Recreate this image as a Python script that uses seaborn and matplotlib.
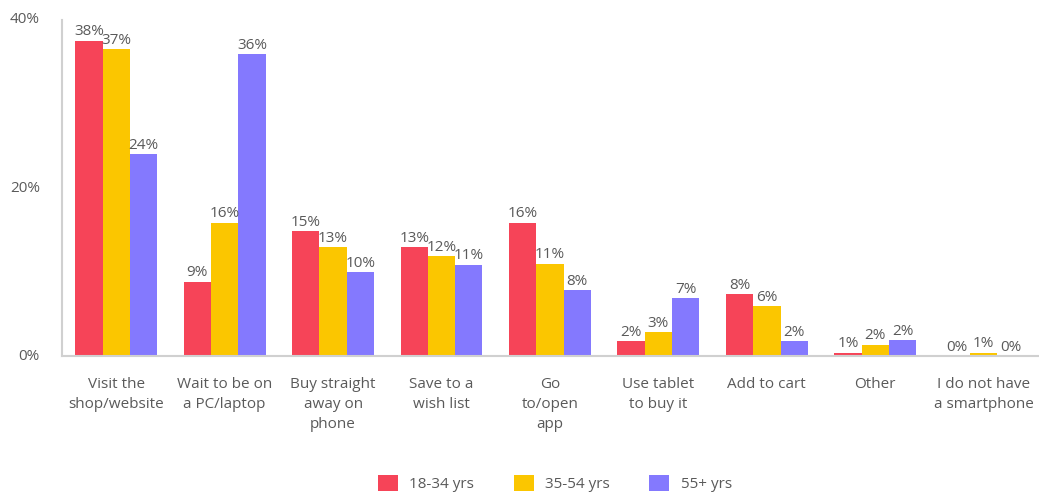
import matplotlib
matplotlib.use("Agg")
import matplotlib.pyplot as plt
import seaborn as sns
import pandas as pd
from matplotlib.patches import Patch

categories = ["Visit the\nshop/website", "Wait to be on\na PC/laptop", "Buy straight\naway on\nphone",
              "Save to a\nwish list", "Go\nto/open\napp", "Use tablet\nto buy it", "Add to cart",
              "Other", "I do not have\na smartphone"]
groups = ["18-34 yrs", "35-54 yrs", "55+ yrs"]
vals_18_34 = [37.5, 8.9, 14.9, 13.0, 15.9, 1.8, 7.4, 0.45, 0.0]
vals_35_54 = [36.5, 15.9, 13.0, 11.9, 11.0, 2.9, 6.0, 1.4, 0.45]
vals_55 = [24.0, 35.9, 10.0, 10.9, 7.9, 6.9, 1.8, 1.9, 0.0]
labels_18_34 = ["38%", "9%", "15%", "13%", "16%", "2%", "8%", "1%", "0%"]
labels_35_54 = ["37%", "16%", "13%", "12%", "11%", "3%", "6%", "2%", "1%"]
labels_55 = ["24%", "36%", "10%", "11%", "8%", "7%", "2%", "2%", "0%"]
colors = ["#F64458", "#FBC600", "#8479FE"]
yticks = [0, 20, 40]

rows = []
for g, vals in zip(groups, [vals_18_34, vals_35_54, vals_55]):
    for c, v in zip(categories, vals):
        rows.append({"category": c, "group": g, "value": v})
df = pd.DataFrame(rows)

sns.set_theme(style="white")
plt.rcParams["font.family"] = ["Open Sans", "DejaVu Sans"]
txt = "#5A5A5A"
fs = 11

fig = plt.figure(figsize=(10.39, 4.95), dpi=100)
ax = fig.add_axes([0.0597, 0.2798, 0.9393, 0.6808])
sns.barplot(data=df, x="category", y="value", hue="group", palette=colors,
            width=0.755, gap=0, saturation=1, ax=ax, legend=False, edgecolor="none")

for cont, labs in zip(ax.containers, [labels_18_34, labels_35_54, labels_55]):
    ax.bar_label(cont, labels=labs, padding=1, fontsize=fs, color=txt, clip_on=False)

ax.set_xlim(-0.5, 8.5)
ax.set_ylim(0, 40)
ax.set_yticks(yticks)
ax.set_yticklabels([f"{t}%" for t in yticks], fontsize=fs, color=txt)
ax.tick_params(axis="y", length=0, pad=16)
ax.tick_params(axis="x", length=0, pad=15, labelcolor=txt)
for lab in ax.get_xticklabels():
    lab.set_fontsize(fs)
    lab.set_linespacing(1.42)
ax.set_xlabel("")
ax.set_ylabel("")
for lab in ax.get_yticklabels():
    lab.set_verticalalignment("center")
for s in ["top", "right"]:
    ax.spines[s].set_visible(False)
for s in ["left", "bottom"]:
    ax.spines[s].set_color("#D0D0D0")
    ax.spines[s].set_linewidth(1.5)

handles = [Patch(facecolor=c, edgecolor="none") for c in colors]
fig.legend(handles, groups, loc="lower center", bbox_to_anchor=(0.534, -0.022), ncol=3,
           frameon=False, fontsize=fs, labelcolor=txt, handlelength=1.3, handleheight=1.3,
           columnspacing=2.6, handletextpad=0.75)

fig.savefig("out.png", dpi=100)
